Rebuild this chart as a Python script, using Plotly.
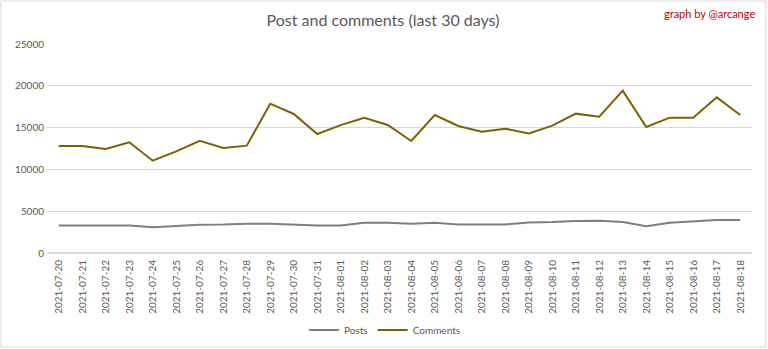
import plotly.graph_objects as go

dates = ["2021-07-20","2021-07-21","2021-07-22","2021-07-23","2021-07-24","2021-07-25",
         "2021-07-26","2021-07-27","2021-07-28","2021-07-29","2021-07-30","2021-07-31",
         "2021-08-01","2021-08-02","2021-08-03","2021-08-04","2021-08-05","2021-08-06",
         "2021-08-07","2021-08-08","2021-08-09","2021-08-10","2021-08-11","2021-08-12",
         "2021-08-13","2021-08-14","2021-08-15","2021-08-16","2021-08-17","2021-08-18"]
posts = [3300, 3300, 3300, 3300, 3070, 3200, 3390, 3400, 3510, 3500, 3400, 3300,
         3300, 3630, 3630, 3510, 3630, 3400, 3400, 3420, 3660, 3700, 3830, 3860,
         3700, 3190, 3630, 3830, 3950, 3950]
comments = [12800, 12800, 12440, 13240, 11040, 12160, 13430, 12560, 12840, 17860, 16630, 14230,
            15300, 16180, 15310, 13400, 16510, 15190, 14510, 14870, 14310, 15230, 16670, 16310,
            19420, 15070, 16190, 16190, 18620, 16510]

W, H = 768, 349
ML, MR, MT, MB = 47, 16, 44, 96
FONT = "Lato"
GREY = "#595959"

fig = go.Figure()
fig.add_trace(go.Scatter(x=dates, y=posts, name="Posts", mode="lines",
                         line=dict(color="#7F7F7F", width=2)))
fig.add_trace(go.Scatter(x=dates, y=comments, name="Comments", mode="lines",
                         line=dict(color="#7F6000", width=2)))

pw = W - ML - MR
ph = H - MT - MB
fig.add_shape(type="rect", xref="paper", yref="paper",
              x0=(1 - ML) / pw, x1=(W - 2 - ML) / pw,
              y0=-(H - 2 - MT - ph) / ph, y1=1 + (MT - 1) / ph,
              line=dict(color="#D9D9D9", width=1), layer="below")

fig.update_layout(
    width=W, height=H,
    margin=dict(l=ML, r=MR, t=MT, b=MB, autoexpand=False),
    paper_bgcolor="white", plot_bgcolor="white",
    font=dict(family=FONT, color=GREY, size=10),
    title=dict(text="Post and comments (last 30 days)", x=383 / W, xref="container",
               xanchor="center", y=1 - 20 / H, yref="container", yanchor="middle",
               font=dict(family=FONT, size=16, color=GREY)),
    showlegend=True,
    legend=dict(orientation="h", xref="container", x=385 / W, xanchor="center",
                yref="container", y=(H - 330) / H, yanchor="middle",
                font=dict(family=FONT, size=10, color=GREY), itemwidth=30),
    xaxis=dict(type="category", range=[-0.5, len(dates) - 0.5], tickangle=-90,
               showgrid=False, showline=False, ticks="", automargin=False,
               ticklabelstandoff=4, tickfont=dict(size=10, color=GREY)),
    yaxis=dict(range=[0, 25000], dtick=5000, showgrid=True, gridcolor="#D9D9D9",
               gridwidth=1, zeroline=True, zerolinecolor="#D9D9D9", showline=False,
               ticks="", automargin=False, ticklabelstandoff=2,
               tickfont=dict(size=10, color=GREY), tickformat="d"),
    annotations=[dict(text="graph by @arcange", xref="paper", yref="paper",
                      x=(757 - ML) / pw, xanchor="right", y=1 + (MT - 14) / ph, yanchor="middle",
                      showarrow=False, font=dict(family=FONT, size=11, color="#C00000"))],
)

fig.write_html("out.html")
